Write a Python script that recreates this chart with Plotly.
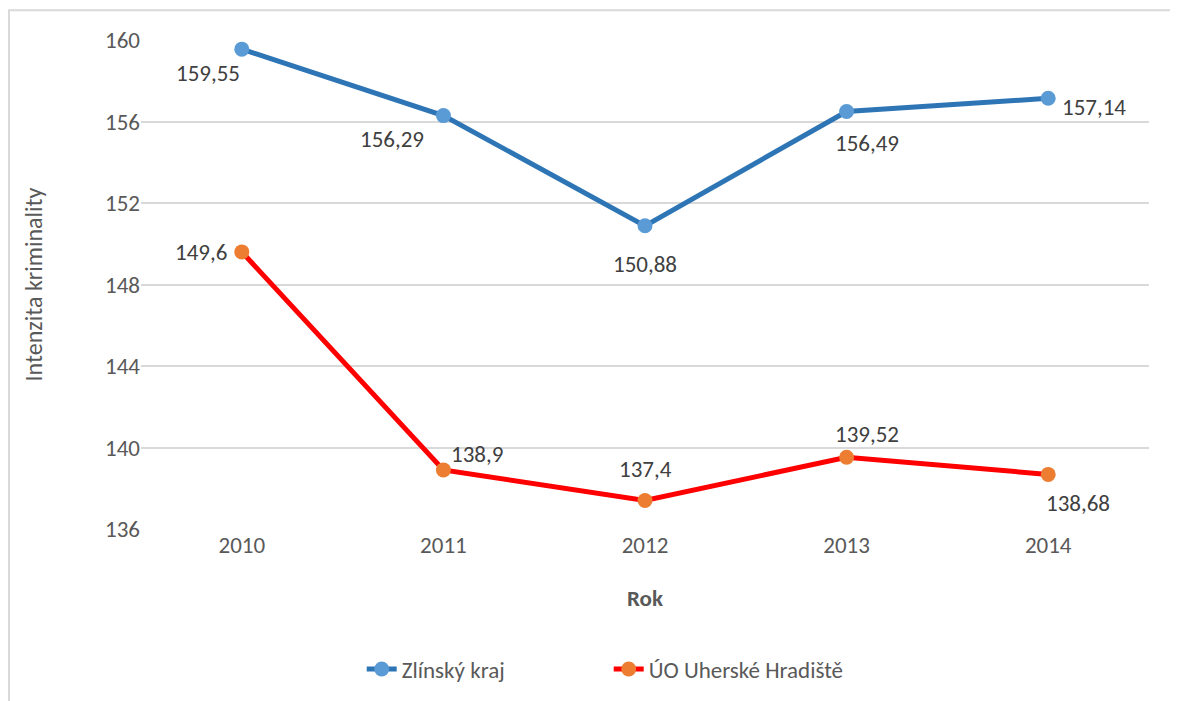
import plotly.graph_objects as go

# Données
roky = ["2010", "2011", "2012", "2013", "2014"]
zlinsky_kraj = [159.55, 156.29, 150.88, 156.49, 157.14]
uo_uh = [149.6, 138.9, 137.4, 139.52, 138.68]
y_ticks = [136, 140, 144, 148, 152, 156, 160]

FONT = "Carlito, Lato, Arial"
GRIS = "#595959"

# posun popisků (px) – jen vzhled
posun_zlin = [(-34, -24), (-51, -23), (0, -38), (20, -31), (46, -9)]
posun_uh = [(-41, 0), (34, 16), (0, 31), (20, 23), (30, -29)]


def popisky(y, posun):
    out = []
    # x jako index kategorie (řetězec "2010" by se bral jako index)
    for i, (yi, (dx, dy)) in enumerate(zip(y, posun)):
        txt = f"{yi:g}".replace(".", ",")
        out.append(dict(
            x=i, y=yi, text=txt, showarrow=False,
            xshift=dx, yshift=dy,
            font=dict(size=23, color="#404040", family=FONT),
        ))
    return out


fig = go.Figure()
fig.add_trace(go.Scatter(
    x=roky, y=zlinsky_kraj, name="Zlínský kraj",
    mode="lines+markers",
    line=dict(color="#2E75B6", width=5),
    marker=dict(color="#5B9BD5", size=15),
))
fig.add_trace(go.Scatter(
    x=roky, y=uo_uh, name="ÚO Uherské Hradiště",
    mode="lines+markers",
    line=dict(color="#FF0000", width=5),
    marker=dict(color="#ED7D31", size=15),
))

fig.update_layout(
    width=1170, height=693,
    paper_bgcolor="white", plot_bgcolor="white",
    font=dict(family=FONT, size=23, color=GRIS),
    margin=dict(l=133, r=29, t=32, b=171),
    xaxis=dict(
        type="category", range=[-0.5, len(roky) - 0.5],
        title=dict(text="<b>Rok</b>", font=dict(size=23, color=GRIS), standoff=31),
        showgrid=False, showline=False, ticks="",
        tickfont=dict(size=23, color=GRIS),
    ),
    yaxis=dict(
        title=dict(text="Intenzita kriminality", font=dict(size=24, color=GRIS), standoff=55),
        range=[136, 160], tickvals=y_ticks,
        gridcolor="#D9D9D9", gridwidth=2, zeroline=False,
        showline=False, ticks="", ticklen=0,
        tickfont=dict(size=23, color=GRIS),
    ),
    legend=dict(
        orientation="h", x=0.464, xanchor="center", y=-0.24, yanchor="top",
        font=dict(size=23, color=GRIS),
        entrywidth=202, entrywidthmode="pixels",
    ),
    annotations=popisky(zlinsky_kraj, posun_zlin) + popisky(uo_uh, posun_uh),
    showlegend=True,
)

# rámeček grafu
fig.add_shape(
    type="rect", xref="paper", yref="paper",
    x0=-0.131, x1=1.05, y0=-0.5, y1=1.061,
    line=dict(color="#D9D9D9", width=2), layer="below",
)

fig.write_html("out.html")
